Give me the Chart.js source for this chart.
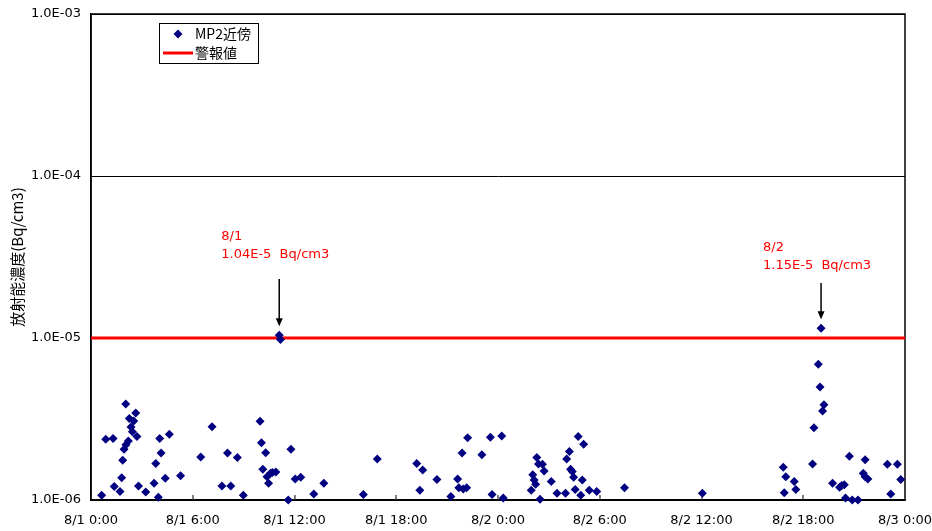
<!DOCTYPE html>
<html>
<head>
<meta charset="utf-8">
<script src="https://cdn.jsdelivr.net/npm/chart.js@4.4.1/dist/chart.umd.min.js"></script>
<style>
  html, body { margin: 0; padding: 0; background: #fff; }
  #wrap { width: 932px; height: 531px; }
</style>
</head>
<body>
<div id="wrap"><canvas id="chart" width="932" height="531"></canvas></div>
<script>
// 測定時刻（8/1 0:00 からの経過時間 h）
const hours = [
  0.63, 0.87, 1.30, 1.37, 1.71, 1.81, 1.87, 1.95, 2.05, 2.06, 2.20, 2.26, 2.36, 2.44, 2.52, 2.64, 2.71, 2.80,
  3.23, 3.72, 3.82, 3.97, 4.05, 4.13, 4.38, 4.62, 5.28, 6.47, 7.14, 7.72, 8.05, 8.24, 8.63, 8.98,
  9.97, 10.05, 10.13, 10.30, 10.38, 10.47, 10.58, 10.70, 10.90, 11.10, 11.17, 11.63, 11.79, 12.04, 12.37,
  13.14, 13.73, 16.06, 16.88, 19.21, 19.39, 19.56, 20.40, 21.22, 21.62, 21.69, 21.88, 21.95, 22.15, 22.21,
  23.05, 23.55, 23.65, 24.22, 24.31, 25.96, 26.05, 26.13, 26.22, 26.29, 26.39, 26.48, 26.62, 26.72, 27.14,
  27.48, 27.98, 28.05, 28.21, 28.28, 28.38, 28.46, 28.55, 28.73, 28.88, 28.97, 29.05, 29.38, 29.82, 31.46,
  36.05, 40.82, 40.88, 40.97, 41.47, 41.56, 42.55, 42.63, 42.89, 42.99, 43.05, 43.14, 43.22, 43.73, 44.14,
  44.27, 44.42, 44.49, 44.72, 44.89, 45.23, 45.54, 45.65, 45.65, 45.81, 46.96, 47.16, 47.55, 47.75
];
// 放射能濃度（×1E-6 Bq/cm3）
const concMicro = [
  1.07, 2.37, 2.40, 1.21, 1.13, 1.37, 1.76, 2.06, 3.91, 2.19, 2.31, 3.19, 2.82, 2.64, 3.07, 3.44, 2.47, 1.22,
  1.12, 1.27, 1.68, 1.04, 2.40, 1.95, 1.36, 2.55, 1.41, 1.84, 2.83, 1.22, 1.95, 1.22, 1.83, 1.07,
  3.06, 2.26, 1.55, 1.96, 1.39, 1.27, 1.46, 1.48, 1.49, 10.4, 9.8, 1.00, 2.06, 1.35, 1.38,
  1.09, 1.27, 1.08, 1.79, 1.68, 1.15, 1.53, 1.34, 1.05, 1.35, 1.19, 1.95, 1.17, 1.19, 2.42,
  1.90, 2.44, 1.08, 2.48, 1.03, 1.15, 1.43, 1.33, 1.25, 1.83, 1.67, 1.01, 1.66, 1.51, 1.30,
  1.10, 1.10, 1.79, 1.99, 1.55, 1.50, 1.38, 1.16, 2.47, 1.07, 1.33, 2.21, 1.15, 1.13, 1.19,
  1.10, 1.59, 1.11, 1.39, 1.30, 1.16, 1.67, 2.79, 6.89, 4.98, 11.5, 3.54, 3.87, 1.27, 1.20,
  1.23, 1.24, 1.03, 1.86, 1.00, 1.00, 1.46, 1.77, 1.39, 1.35, 1.66, 1.09, 1.66, 1.34
];
const alarmLevel = 1e-5;          // 警報値
const xTicks = [0, 6, 12, 18, 24, 30, 36, 42, 48];
const yDecades = [1e-6, 1e-5, 1e-4, 1e-3];

// 吹き出し（最大値）
const calloutHours = [11.10, 43.05];
const calloutValues = [1.04e-5, 1.15e-5];
const calloutDates = ['8/1', '8/2'];
const calloutTexts = ['1.04E-5  Bq/cm3', '1.15E-5  Bq/cm3'];

const TICK_FONT = '"DejaVu Sans", "Noto Sans CJK JP", sans-serif';
const JP_FONT = '"Noto Sans CJK JP", "DejaVu Sans", sans-serif';

function xLabel(v) {
  const day = 1 + Math.floor(v / 24);
  return `8/${day} ${v % 24}:00`;
}
function isDecade(v) {
  const l = Math.log10(v);
  return Math.abs(l - Math.round(l)) < 1e-6;
}
function noScalePadding(s) {
  s.paddingLeft = 0; s.paddingRight = 0; s.paddingTop = 0; s.paddingBottom = 0;
}

// 枠・目盛り（データより先に描く）
const framePlugin = {
  id: 'frame',
  beforeDatasetsDraw(chart) {
    const { ctx, chartArea: a, scales: { x } } = chart;
    ctx.save();
    ctx.strokeStyle = '#808080';
    ctx.lineWidth = 2;
    xTicks.slice(1, -1).forEach(v => {
      const px = Math.round(x.getPixelForValue(v));
      ctx.beginPath();
      ctx.moveTo(px, a.bottom);
      ctx.lineTo(px, a.bottom - 5);
      ctx.stroke();
    });
    ctx.strokeStyle = '#000';
    ctx.lineWidth = 1.5;
    ctx.strokeRect(a.left, a.top, a.right - a.left, a.bottom - a.top);
    ctx.restore();
  }
};

// 凡例と注記
const overlayPlugin = {
  id: 'overlay',
  afterDraw(chart) {
    const { ctx, scales: { x, y } } = chart;
    ctx.save();

    // 注記
    const textTops = [237, 248];
    const arrowTops = [279, 283];
    calloutHours.forEach((h, i) => {
      const px = x.getPixelForValue(h);
      const py = y.getPixelForValue(calloutValues[i]);
      ctx.fillStyle = '#ff0000';
      ctx.font = '13px ' + TICK_FONT;
      ctx.textAlign = 'left';
      ctx.textBaseline = 'middle';
      ctx.fillText(calloutDates[i], px - 58, textTops[i]);
      ctx.fillText(calloutTexts[i], px - 58, textTops[i] + 18);
      const tip = py - 9;
      ctx.strokeStyle = '#000';
      ctx.lineWidth = 1.5;
      ctx.beginPath();
      ctx.moveTo(px, arrowTops[i]);
      ctx.lineTo(px, tip - 6);
      ctx.stroke();
      ctx.fillStyle = '#000';
      ctx.beginPath();
      ctx.moveTo(px - 3.5, tip - 8);
      ctx.lineTo(px + 3.5, tip - 8);
      ctx.lineTo(px, tip);
      ctx.closePath();
      ctx.fill();
    });

    // 凡例
    ctx.fillStyle = '#fff';
    ctx.fillRect(159.5, 23.5, 99, 40);
    ctx.strokeStyle = '#000';
    ctx.lineWidth = 1;
    ctx.strokeRect(159.5, 23.5, 99, 40);
    ctx.fillStyle = '#000080';
    ctx.beginPath();
    ctx.moveTo(178, 29.5);
    ctx.lineTo(182.5, 34);
    ctx.lineTo(178, 38.5);
    ctx.lineTo(173.5, 34);
    ctx.closePath();
    ctx.fill();
    ctx.strokeStyle = '#ff0000';
    ctx.lineWidth = 3;
    ctx.beginPath();
    ctx.moveTo(163, 53);
    ctx.lineTo(193, 53);
    ctx.stroke();
    ctx.fillStyle = '#000';
    ctx.font = '14px ' + JP_FONT;
    ctx.textAlign = 'left';
    ctx.textBaseline = 'middle';
    ctx.fillText(chart.data.datasets[0].label, 195, 34);
    ctx.fillText(chart.data.datasets[1].label, 195, 53);
    ctx.restore();
  }
};

const ctx = document.getElementById('chart');
new Chart(ctx, {
  type: 'scatter',
  data: {
    datasets: [
      {
        label: 'MP2近傍',
        data: hours.map((h, i) => ({ x: h, y: concMicro[i] * 1e-6 })),
        pointStyle: 'rectRot',
        pointRadius: 4.5,
        backgroundColor: '#000080',
        borderColor: '#000080',
        borderWidth: 0,
        clip: false,
        order: 1
      },
      {
        label: '警報値',
        type: 'line',
        data: [{ x: 0, y: alarmLevel }, { x: 48, y: alarmLevel }],
        borderColor: '#ff0000',
        borderWidth: 3,
        pointRadius: 0,
        fill: false,
        order: 2
      }
    ]
  },
  options: {
    responsive: false,
    animation: false,
    layout: { padding: { left: 0, right: 27, top: 14, bottom: 0 } },
    plugins: { legend: { display: false }, tooltip: { enabled: false } },
    scales: {
      x: {
        type: 'linear',
        min: 0,
        max: 48,
        afterBuildTicks: s => { s.ticks = xTicks.map(v => ({ value: v })); },
        afterFit: s => { s.height = 31; noScalePadding(s); },
        ticks: {
          autoSkip: false,
          maxRotation: 0,
          padding: 13,
          color: '#000',
          font: { family: TICK_FONT, size: 13 },
          callback: v => xLabel(v)
        },
        grid: { display: false, drawTicks: false },
        border: { color: '#000', width: 1.5 }
      },
      y: {
        type: 'logarithmic',
        min: 1e-6,
        max: 1e-3,
        afterBuildTicks: s => { s.ticks = yDecades.map(v => ({ value: v })); },
        afterFit: s => { s.width = 91; noScalePadding(s); },
        ticks: {
          autoSkip: false,
          padding: 10,
          color: '#000',
          font: { family: TICK_FONT, size: 13 },
          callback: v => isDecade(v) ? '1.0E-' + String(-Math.round(Math.log10(v))).padStart(2, '0') : ''
        },
        grid: { drawTicks: false, color: '#000', lineWidth: 1 },
        border: { color: '#000', width: 1.5 },
        title: {
          display: true,
          text: '放射能濃度(Bq/cm3)',
          color: '#000',
          font: { family: JP_FONT, size: 15 },
          padding: { top: 8, bottom: 0 }
        }
      }
    }
  },
  plugins: [framePlugin, overlayPlugin]
});
</script>
</body>
</html>
